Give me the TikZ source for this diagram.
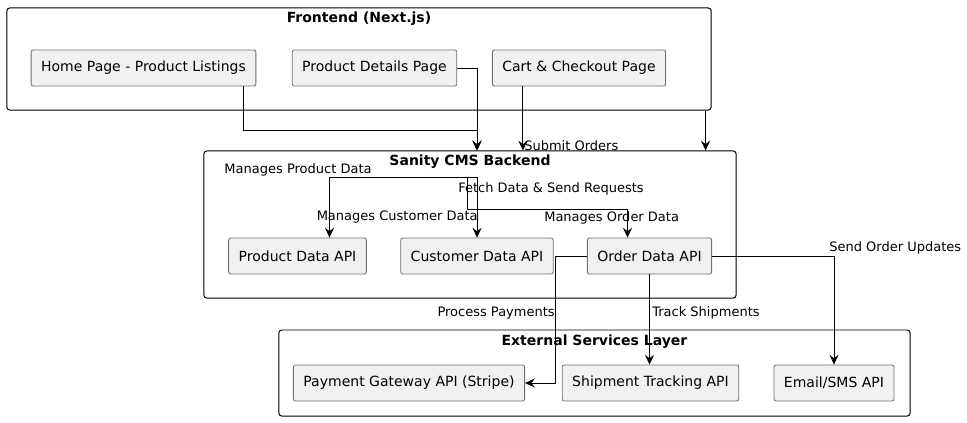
\documentclass[tikz,border=0pt]{standalone}
\usepackage{fontspec}
\setmainfont{DejaVu Sans}
\usetikzlibrary{arrows.meta,calc}
\definecolor{boxfill}{HTML}{F1F1F1}
\definecolor{boxline}{HTML}{707070}

\begin{document}
\begin{tikzpicture}[x=0.025cm,y=-0.025cm]

      \tikzset{apibox/.style={draw=boxline, line width=0.6pt, fill=boxfill, rounded corners=1.5pt, minimum height=0.9cm, inner xsep=0.25cm, font=\fontsize{9.96}{12}\selectfont},
               layer/.style={draw=black, line width=0.7pt, rounded corners=2pt, fill=white},
               layertitle/.style={anchor=base, inner sep=0pt, font=\fontsize{9.96}{12}\selectfont\bfseries},
               flow/.style={line width=0.7pt, -{Stealth[length=7pt,width=6.5pt,inset=2.5pt]}},
               flowlabel/.style={inner sep=0pt, font=\fontsize{9.25}{11}\selectfont}}
      \useasboundingbox (0,0) rectangle (967,422);
% Layers
      	\node[layer, minimum width=17.6cm, minimum height=2.55cm] (frontend) at (359,59) {};
      	\node[layer, minimum width=13.3cm, minimum height=3.675cm] (sanity) at (470,224.5) {};
      	\node[layer, minimum width=15.775cm, minimum height=2.15cm] (external) at (594.5,373) {};
      	\node[layertitle] (fronttitle) at ($(frontend.north)+(0,15)$) {Frontend (Next.js)};
      	\node[layertitle] (sanitytitle) at ($(sanity.north)+(0,15)$) {Sanity CMS Backend};
      	\node[layertitle] (externaltitle) at ($(external.north)+(0,16)$) {External Services Layer};
% Vertices
      	\node[apibox] (home) at (143.5,68) {Home Page - Product Listings};
      	\node[apibox] (details) at (374.5,68) {Product Details Page};
    	\node[apibox] (cart) at (579,68) {Cart \& Checkout Page};
  	    \node[apibox] (productapi) at (297.5,256) {Product Data API};
  	    \node[apibox] (customerapi) at (477,256) {Customer Data API};
  	    \node[apibox] (orderapi) at (649.5,256) {Order Data API};
  	    \node[apibox] (payment) at (409,383) {Payment Gateway API (Stripe)};
  	    \node[apibox] (shipment) at (650.5,383) {Shipment Tracking API};
  	    \node[apibox] (email) at (834,383) {Email/SMS API};
  	    \coordinate (entry) at ($(sanity.north)+(7,0)$);
  	    \coordinate (split) at ($(entry)+(0,27)$);
%Edges
		\draw[flow] ($(home.south east)+(-13,0)$) |- ($(entry)+(0,-20)$) -- (entry);
		\draw[flow] (details.east) -| (entry);
		\draw[flow] ($(cart.south west)+(31,0)$) coordinate (cartout) -- (cartout |- sanity.north);
		\draw[flow] ($(frontend.south east)+(-6,0)$) coordinate (frontout) -- (frontout |- sanity.north);
		\draw[flow] (split) -| ($(productapi.north)+(32,0)$);
		\draw[flow] (split) -- (customerapi.north);
		\draw[flow] ($(split)+(-10,0)$) |- ($(orderapi.north)+(-22,-28)$) -- ($(orderapi.north)+(-22,0)$);
		\draw[flow] (orderapi.west) -- ++(-31,0) |- (payment.east);
		\draw[flow] (orderapi.south) -- (orderapi.south |- shipment.north);
		\draw[flow] (orderapi.east) -| (email.north);
% Labels
		\node[flowlabel, anchor=base west] (lblsubmit) at (524,150.5) {Submit Orders};
		\node[flowlabel, anchor=base] (lblproduct) at (298,173.5) {Manages Product Data};
		\node[flowlabel, anchor=base west] (lblfetch) at (458,192.5) {Fetch Data \& Send Requests};
		\node[flowlabel, anchor=base east] (lblcustomer) at (478,220.5) {Manages Customer Data};
		\node[flowlabel, anchor=base west] (lblorder) at (544,221.5) {Manages Order Data};
		\node[flowlabel, anchor=base west] (lblupdates) at (829,251.5) {Send Order Updates};
		\node[flowlabel, anchor=base east] (lblpay) at (555,316.5) {Process Payments};
		\node[flowlabel, anchor=base west] (lbltrack) at (652,316.5) {Track Shipments};

	\end{tikzpicture}
\end{document}
